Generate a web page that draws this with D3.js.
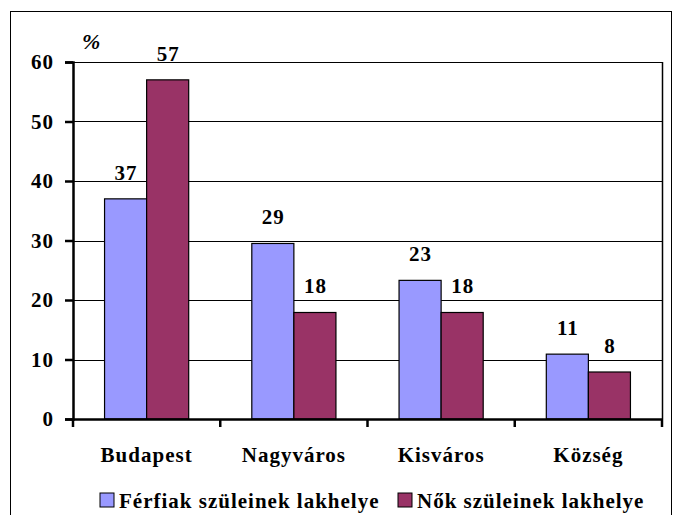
<!DOCTYPE html>
<html>
<head>
<meta charset="utf-8">
<script src="https://d3js.org/d3.v7.min.js"></script>
<style>
  body { margin: 0; background: #fff; }
  text { font-family: "Liberation Serif", "Times New Roman", serif; font-weight: bold; fill: #000; }
</style>
</head>
<body>
<svg id="chart" width="673" height="515"></svg>
<script>
var categories = ["Budapest", "Nagyváros", "Kisváros", "Község"];
var seriesNames = ["Férfiak szüleinek lakhelye", "Nők szüleinek lakhelye"];
var ferfiak = [37, 29.5, 23.3, 10.9];
var nok = [57, 17.9, 17.9, 7.9];
var ferfiakLabels = ["37", "29", "23", "11"];
var nokLabels = ["57", "18", "18", "8"];
var yTicks = [0, 10, 20, 30, 40, 50, 60];
var colors = ["#9999ff", "#993366"];

var svg = d3.select("#chart");

// outer frame
svg.append("rect").attr("x", 10.5).attr("y", 11.5).attr("width", 661).attr("height", 510)
  .attr("fill", "none").attr("stroke", "#000").attr("stroke-width", 1);

var plotLeft = 73, plotRight = 662, plotTop = 62, plotBottom = 419;

var x = d3.scaleBand().domain(categories).range([plotLeft, plotRight]);
var xs = d3.scaleBand().domain([0, 1]).range([0, x.bandwidth()]).paddingInner(0).paddingOuter(0.75);
var y = d3.scaleLinear().domain([0, 60]).range([plotBottom, plotTop]);

// gridlines
svg.append("g").selectAll("line").data(yTicks.filter(function (d) { return d > 0; }))
  .enter().append("line")
  .attr("x1", plotLeft).attr("x2", plotRight)
  .attr("y1", function (d) { return Math.round(y(d)) + 0.5; })
  .attr("y2", function (d) { return Math.round(y(d)) + 0.5; })
  .attr("stroke", "#000").attr("stroke-width", 1);

// right border of plot
svg.append("line").attr("x1", plotRight + 0.5).attr("x2", plotRight + 0.5).attr("y1", plotTop).attr("y2", plotBottom)
  .attr("stroke", "#000").attr("stroke-width", 1.5);

// bars
var series = [ferfiak, nok];
var labels = [ferfiakLabels, nokLabels];
series.forEach(function (vals, si) {
  var g = svg.append("g");
  g.selectAll("rect").data(vals).enter().append("rect")
    .attr("x", function (d, i) { return x(categories[i]) + xs(si); })
    .attr("y", function (d) { return y(d); })
    .attr("width", xs.bandwidth())
    .attr("height", function (d) { return plotBottom - y(d); })
    .attr("fill", colors[si]).attr("stroke", "#000").attr("stroke-width", 1.2);
  g.selectAll("text").data(vals).enter().append("text")
    .attr("x", function (d, i) { return x(categories[i]) + xs(si) + xs.bandwidth() / 2 + 0.5; })
    .attr("y", function (d) { return y(d) - 19; })
    .attr("text-anchor", "middle").attr("font-size", 21).attr("letter-spacing", 1)
    .text(function (d, i) { return labels[si][i]; });
});

// y axis
var yAxis = d3.axisLeft(y).tickValues(yTicks).tickSize(8).tickPadding(11);
var yg = svg.append("g").attr("transform", "translate(" + plotLeft + ",0)").call(yAxis);
yg.select(".domain").attr("stroke-width", 2.5);
yg.selectAll(".tick line").attr("stroke-width", 2.5);
yg.selectAll(".tick text").attr("font-size", 21).attr("letter-spacing", 1)
  .attr("font-family", "Liberation Serif").attr("font-weight", "bold");

// x axis
var xAxis = d3.axisBottom(x).tickSize(0).tickPadding(0).tickFormat("");
var xg = svg.append("g").attr("transform", "translate(0," + plotBottom + ")").call(xAxis);
xg.select(".domain").attr("stroke-width", 2.5);
xg.selectAll(".tick").remove();
xg.selectAll("line.sep").data(d3.range(categories.length + 1)).enter().append("line")
  .attr("class", "sep")
  .attr("x1", function (i) { return plotLeft + i * x.step(); })
  .attr("x2", function (i) { return plotLeft + i * x.step(); })
  .attr("y1", 0).attr("y2", 8)
  .attr("stroke", "#000").attr("stroke-width", 2.5);

svg.append("g").selectAll("text").data(categories).enter().append("text")
  .attr("x", function (d) { return x(d) + x.bandwidth() / 2; })
  .attr("y", 462)
  .attr("text-anchor", "middle").attr("font-size", 21).attr("letter-spacing", 1)
  .text(function (d) { return d; });

// % unit
svg.append("text").attr("x", 82).attr("y", 49).attr("font-size", 22).attr("font-style", "italic").text("%");

// legend
var legendX = [100, 398];
seriesNames.forEach(function (name, i) {
  svg.append("rect").attr("x", legendX[i]).attr("y", 493).attr("width", 14).attr("height", 14)
    .attr("fill", colors[i]).attr("stroke", "#000").attr("stroke-width", 1);
  svg.append("text").attr("x", legendX[i] + 19).attr("y", 508).attr("font-size", 21)
    .attr("letter-spacing", 1).text(name);
});
</script>
</body>
</html>
